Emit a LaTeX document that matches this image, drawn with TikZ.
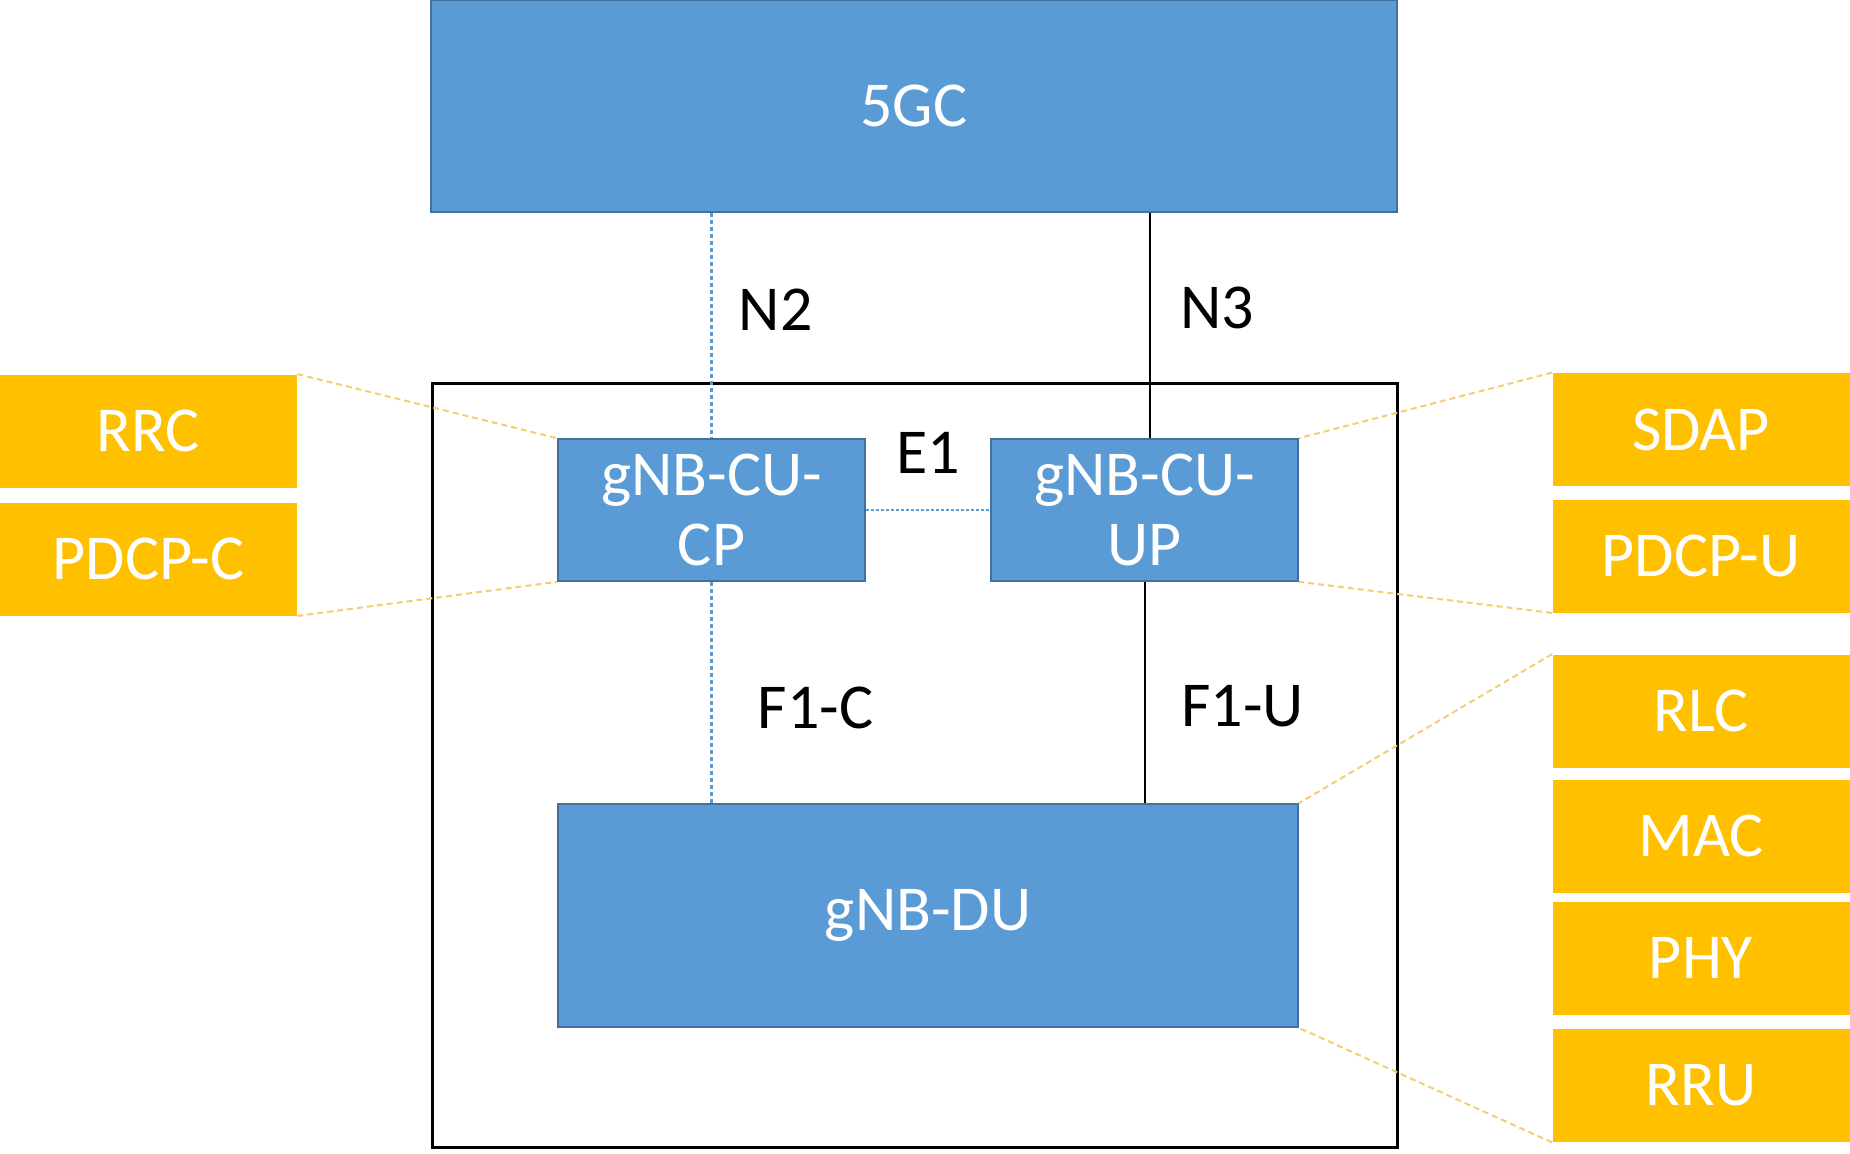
\documentclass[tikz,border=0pt]{standalone}
\usepackage{fontspec}
\setmainfont{Carlito}
\definecolor{boxblue}{HTML}{5B9BD5}
\definecolor{boxedge}{HTML}{41719C}
\definecolor{layer}{HTML}{FFC000}
\definecolor{layerline}{HTML}{F2CF6F}
\begin{document}
\begin{tikzpicture}[x=0.5pt,y=-0.5pt,font=\fontsize{32}{35}\selectfont]

      \useasboundingbox (0,0) rectangle (1850,1153);
      \draw[line width=1.5pt] (432,383) rectangle (1397,1147);

      \begin{scope}[every node/.style={rectangle,draw=boxedge,fill=boxblue,text=white,align=center,inner sep=0pt,line width=0.8pt}]
        \node[minimum width=483pt,minimum height=106pt] (core) at (914,106)    {5GC};
        \node[minimum width=153.5pt,minimum height=71pt] (cucp) at (711.5,510)  {gNB-CU-\\CP};
        \node[minimum width=153.5pt,minimum height=71pt] (cuup) at (1144.5,510) {gNB-CU-\\UP};
        \node[minimum width=370pt,minimum height=111.5pt] (du)  at (928,915.5)  {gNB-DU};
      \end{scope}

      \begin{scope}[every node/.style={fill=layer,text=white,minimum width=148.5pt,minimum height=56.5pt,inner sep=0pt}]
        \node (rrc)   at (148.5,431)  {RRC};
        \node (pdcpc) at (148.5,559)  {PDCP-C};
        \node (sdap)  at (1701,429.5) {SDAP};
        \node (pdcpu) at (1701,556)   {PDCP-U};
        \node (rlc)   at (1701,711)   {RLC};
        \node (mac)   at (1701,836)   {MAC};
        \node (phy)   at (1701,958)   {PHY};
        \node (rru)   at (1701,1085.5){RRU};
      \end{scope}



      \begin{scope}[every node/.style={text=black,inner sep=0pt}]

        \begin{scope}[every edge/.style={draw,line width=1pt}]
          \path (core.south -| cucp.north) edge[draw=boxblue,line width=1.2pt,dash pattern=on 2pt off 1.5pt] node[anchor=west,xshift=13pt,pos=0.43] {N2} (cucp.north);
          \path (core.south -| 1150,0) edge node[anchor=west,xshift=14.5pt,pos=0.42] {N3} (cuup.north -| 1150,0);
          \path (cucp) edge[draw=boxblue,line width=1pt,dash pattern=on 1.5pt off 1pt] node[above=18pt] {E1} (cuup);
          \path (cucp.south) edge[draw=boxblue,line width=1.2pt,dash pattern=on 2pt off 1.5pt] node[anchor=west,xshift=22.5pt,pos=0.57] {F1-C} (du.north -| cucp.south);
          \path (cuup.south) edge node[anchor=west,xshift=18pt,pos=0.56] {F1-U} (du.north -| cuup.south);
        \end{scope}
      \end{scope}

      \begin{scope}[every edge/.style={draw=layerline,line width=1pt,dash pattern=on 3pt off 2pt}]
        \path (rrc.north east)   edge (cucp.north west);
        \path (pdcpc.south east) edge (cucp.south west);
        \path (sdap.north west)  edge (cuup.north east);
        \path (pdcpu.south west) edge (cuup.south east);
        \path (rlc.north west)   edge (du.north east);
        \path (rru.south west)   edge (du.south east);
      \end{scope}

    \end{tikzpicture}
\end{document}
